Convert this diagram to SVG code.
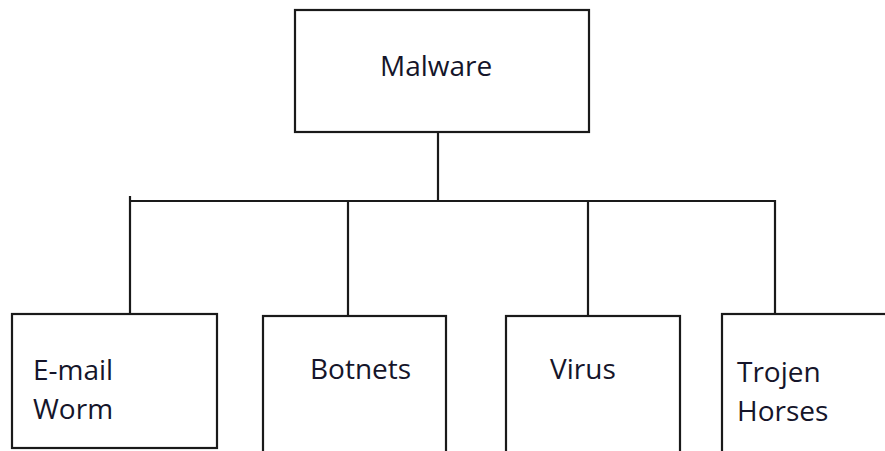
<svg xmlns="http://www.w3.org/2000/svg" width="885" height="451" viewBox="0 0 885 451">
<style>
.box{fill:#fff;stroke:#1a1a1a;stroke-width:2.2}
.ln{stroke:#1a1a1a;stroke-width:2.2;fill:none}
.t{font-family:"Open Sans","Liberation Sans",sans-serif;font-size:28px;fill:#15152a}
</style>
<rect width="885" height="451" fill="#fff"/>
<g id="connectors">
<line class="ln" x1="438" y1="132" x2="438" y2="201"/>
<line class="ln" x1="130" y1="201" x2="774" y2="201"/>
<line class="ln" x1="130" y1="196" x2="130" y2="314"/>
<line class="ln" x1="348" y1="201" x2="348" y2="316"/>
<line class="ln" x1="588" y1="201" x2="588" y2="316"/>
<line class="ln" x1="775" y1="200" x2="775" y2="314"/>
</g>
<g id="malware">
<rect class="box" x="295" y="10" width="294" height="122"/>
<text class="t" x="380" y="76">Malware</text>
</g>
<g id="email-worm">
<rect class="box" x="12" y="314" width="205" height="134"/>
<text class="t" x="33" y="380">E-mail</text>
<text class="t" x="33" y="419">Worm</text>
</g>
<g id="botnets">
<rect class="box" x="263" y="316" width="183" height="145"/>
<text class="t" x="310" y="379">Botnets</text>
</g>
<g id="virus">
<rect class="box" x="506" y="316" width="174" height="145"/>
<text class="t" x="550" y="379">Virus</text>
</g>
<g id="trojen-horses">
<rect class="box" x="722" y="314" width="180" height="150"/>
<text class="t" x="737" y="382">Trojen</text>
<text class="t" x="737" y="421">Horses</text>
</g>
</svg>
